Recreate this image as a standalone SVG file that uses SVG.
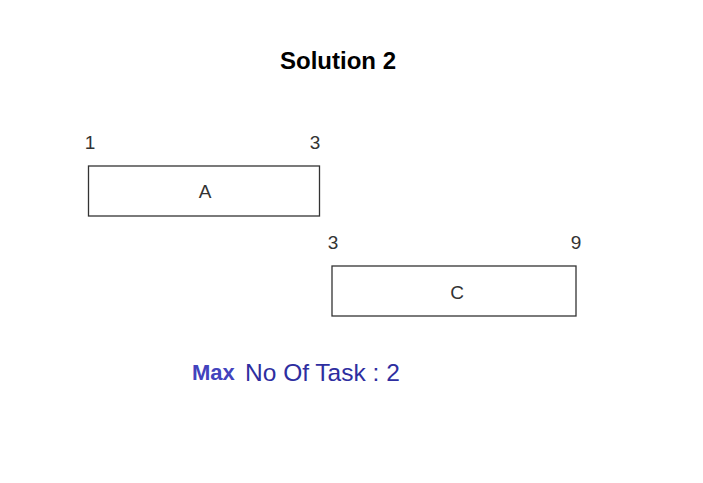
<svg xmlns="http://www.w3.org/2000/svg" width="703" height="483" viewBox="0 0 703 483">
<style>
.box{fill:#fff;stroke:#333;stroke-width:1.3}
.t{font-family:"Liberation Sans",Arial,sans-serif;font-size:19px;fill:#333}
.c{text-anchor:middle}
</style>
<rect width="703" height="483" fill="#fff"/>
<text x="338" y="69" font-family="Liberation Sans,Arial,sans-serif" font-size="24" font-weight="bold" fill="#000" text-anchor="middle">Solution 2</text>
<g id="nodeA">
<rect class="box" x="88.5" y="166" width="231" height="50"/>
<text class="t c" x="205" y="198">A</text>
<text class="t c" x="90" y="149">1</text>
<text class="t c" x="315" y="149">3</text>
</g>
<g id="nodeC">
<rect class="box" x="332" y="266" width="244" height="50"/>
<text class="t c" x="457" y="298.5">C</text>
<text class="t c" x="333" y="248.5">3</text>
<text class="t c" x="576" y="248.5">9</text>
</g>
<g id="connectors"></g>
<g id="summary">
<text x="192" y="380" font-family="Liberation Sans,Arial,sans-serif" font-size="22" font-weight="bold" fill="#4343bd">Max</text>
<text x="245" y="380.5" font-family="Liberation Sans,Arial,sans-serif" font-size="24.5" fill="#2e2ea0">No Of Task : 2</text>
</g>
</svg>
